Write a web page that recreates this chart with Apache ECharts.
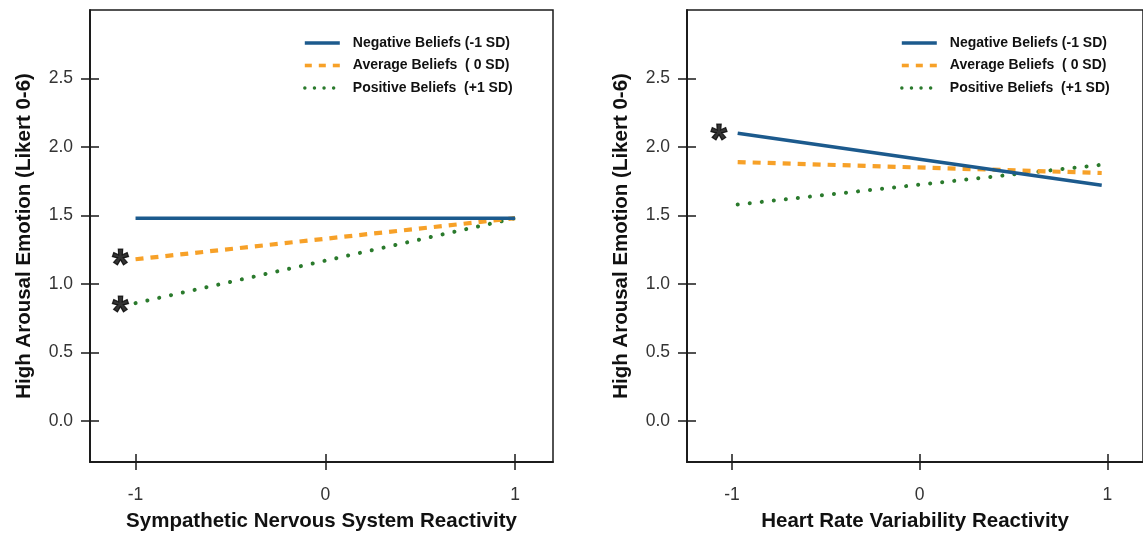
<!DOCTYPE html>
<html>
<head>
<meta charset="utf-8">
<script src="https://cdn.jsdelivr.net/npm/echarts@6/dist/echarts.min.js"></script>
<style>html,body{margin:0;padding:0;background:#fff;}#c{width:1143px;height:537px;}</style>
</head>
<body>
<div id="c"></div>
<script>
// ---- data ----
const seriesNames = ['Negative Beliefs (-1 SD)', 'Average Beliefs  ( 0 SD)', 'Positive Beliefs  (+1 SD)'];
const xTicks = [-1, 0, 1];
const yTicks = [0, 0.5, 1.0, 1.5, 2.0, 2.5];
// Left panel: Sympathetic Nervous System Reactivity
const leftX = [-1, 1];
const leftNegative = [1.48, 1.48];
const leftAverage = [1.18, 1.48];
const leftPositive = [0.86, 1.48];
const leftStars = [[-1.08, 1.2], [-1.08, 0.86]];
// Right panel: Heart Rate Variability Reactivity
const rightX = [-0.97, 0.97];
const rightNegative = [2.10, 1.72];
const rightAverage = [1.89, 1.81];
const rightPositive = [1.58, 1.87];
const rightStars = [[-1.07, 2.11]];
const leftXName = 'Sympathetic Nervous System Reactivity';
const rightXName = 'Heart Rate Variability Reactivity';
const yName = 'High Arousal Emotion (Likert 0-6)';

const colors = ['#1c5a8d', '#f7a128', '#2a7a2c'];
const FONT = 'Liberation Sans, Arial, sans-serif';

function pairs(xs, ys) { return xs.map((x, i) => [x, ys[i]]); }

const lineStyles = [
  { color: colors[0], width: 3.6, type: 'solid' },
  { color: colors[1], width: 4.2, type: [8, 7] },
  { color: colors[2], width: 4, type: [0.1, 12], cap: 'round' }
];
const legendLineStyles = [
  { color: colors[0], width: 3.4, type: 'solid' },
  { color: colors[1], width: 3.6, type: [7, 7] },
  { color: colors[2], width: 3.4, type: [0.1, 9.5], cap: 'round' }
];

function makeLines(gi, xs, arrs) {
  return arrs.map((ys, k) => ({
    name: seriesNames[k], type: 'line', xAxisIndex: gi * 2, yAxisIndex: gi * 2,
    data: pairs(xs, ys), symbol: 'none', showSymbol: false, silent: true,
    lineStyle: lineStyles[k], itemStyle: { color: colors[k] }, z: 5 - k, animation: false
  }));
}
function makeStars(gi, pts) {
  return {
    type: 'scatter', xAxisIndex: gi * 2, yAxisIndex: gi * 2, data: pts, symbolSize: 0.01, silent: true,
    label: { show: true, formatter: '*', position: 'inside', fontSize: 42, fontWeight: 'bold', color: '#000',
      textBorderColor: '#000', textBorderWidth: 1.2, fontFamily: FONT, offset: [0, 10] },
    animation: false
  };
}

const grids = [
  { left: 90, top: 10, width: 463, height: 452 },
  { left: 687, top: 10, width: 462, height: 452 }
];
const xRanges = [[-1.24, 1.2], [-1.24, 1.19]];
const xNames = [leftXName, rightXName];

const xAxes = [], yAxes = [];
grids.forEach((g, gi) => {
  const base = {
    type: 'value', gridIndex: gi, min: xRanges[gi][0], max: xRanges[gi][1], position: 'bottom',
    splitLine: { show: false },
    axisLine: { show: true, onZero: false, lineStyle: { color: '#1a1a1a', width: 1.5 } }
  };
  xAxes.push(Object.assign({}, base, {
    name: xNames[gi], nameLocation: 'middle', nameGap: 49,
    nameTextStyle: { fontSize: 20.5, fontWeight: 'bold', color: '#111', fontFamily: FONT },
    axisTick: { show: true, customValues: xTicks, length: 8, lineStyle: { color: '#1a1a1a', width: 1.5 } },
    axisLabel: { customValues: xTicks, margin: 24, fontSize: 17.5, color: '#333', fontFamily: FONT, formatter: v => String(v) }
  }));
  xAxes.push(Object.assign({}, base, {
    axisTick: { show: true, inside: true, customValues: xTicks, length: 8, lineStyle: { color: '#1a1a1a', width: 1.5 } },
    axisLabel: { show: false }
  }));
  const ybase = {
    type: 'value', gridIndex: gi, min: -0.3, max: 3.0, position: 'left',
    splitLine: { show: false },
    axisLine: { show: true, onZero: false, lineStyle: { color: '#1a1a1a', width: 1.5 } }
  };
  yAxes.push(Object.assign({}, ybase, {
    name: yName, nameLocation: 'middle', nameGap: 55, nameRotate: 90,
    nameTextStyle: { fontSize: 20.5, fontWeight: 'bold', color: '#111', fontFamily: FONT },
    axisTick: { show: true, customValues: yTicks, length: 9, lineStyle: { color: '#1a1a1a', width: 1.5 } },
    axisLabel: { customValues: yTicks, margin: 17, fontSize: 17.5, color: '#333', fontFamily: FONT, formatter: v => v.toFixed(1) }
  }));
  yAxes.push(Object.assign({}, ybase, {
    axisTick: { show: true, inside: true, customValues: yTicks, length: 9, lineStyle: { color: '#1a1a1a', width: 1.5 } },
    axisLabel: { show: false }
  }));
});

function legendAt(left) {
  return {
    data: seriesNames.map((n, k) => ({ name: n, lineStyle: legendLineStyles[k] })),
    orient: 'vertical', left: left, top: 36, itemWidth: 35, itemHeight: 14, itemGap: 8.5,
    selectedMode: false, padding: 0,
    itemStyle: { opacity: 0, borderWidth: 0 },
    textStyle: { fontSize: 14, fontWeight: 'bold', color: '#111', fontFamily: FONT, padding: [0, 0, 0, 8] }
  };
}

const option = {
  animation: false,
  backgroundColor: '#fff',
  grid: grids.map(g => Object.assign({ show: true, borderColor: '#1a1a1a', borderWidth: 1.5, backgroundColor: 'transparent' }, g)),
  xAxis: xAxes,
  yAxis: yAxes,
  legend: [legendAt(303), legendAt(900)],
  series: [].concat(
    makeLines(0, leftX, [leftNegative, leftAverage, leftPositive]),
    [makeStars(0, leftStars)],
    makeLines(1, rightX, [rightNegative, rightAverage, rightPositive]),
    [makeStars(1, rightStars)]
  )
};

const chart = echarts.init(document.getElementById('c'), null, { renderer: 'canvas' });
chart.setOption(option);
</script>
</body>
</html>
